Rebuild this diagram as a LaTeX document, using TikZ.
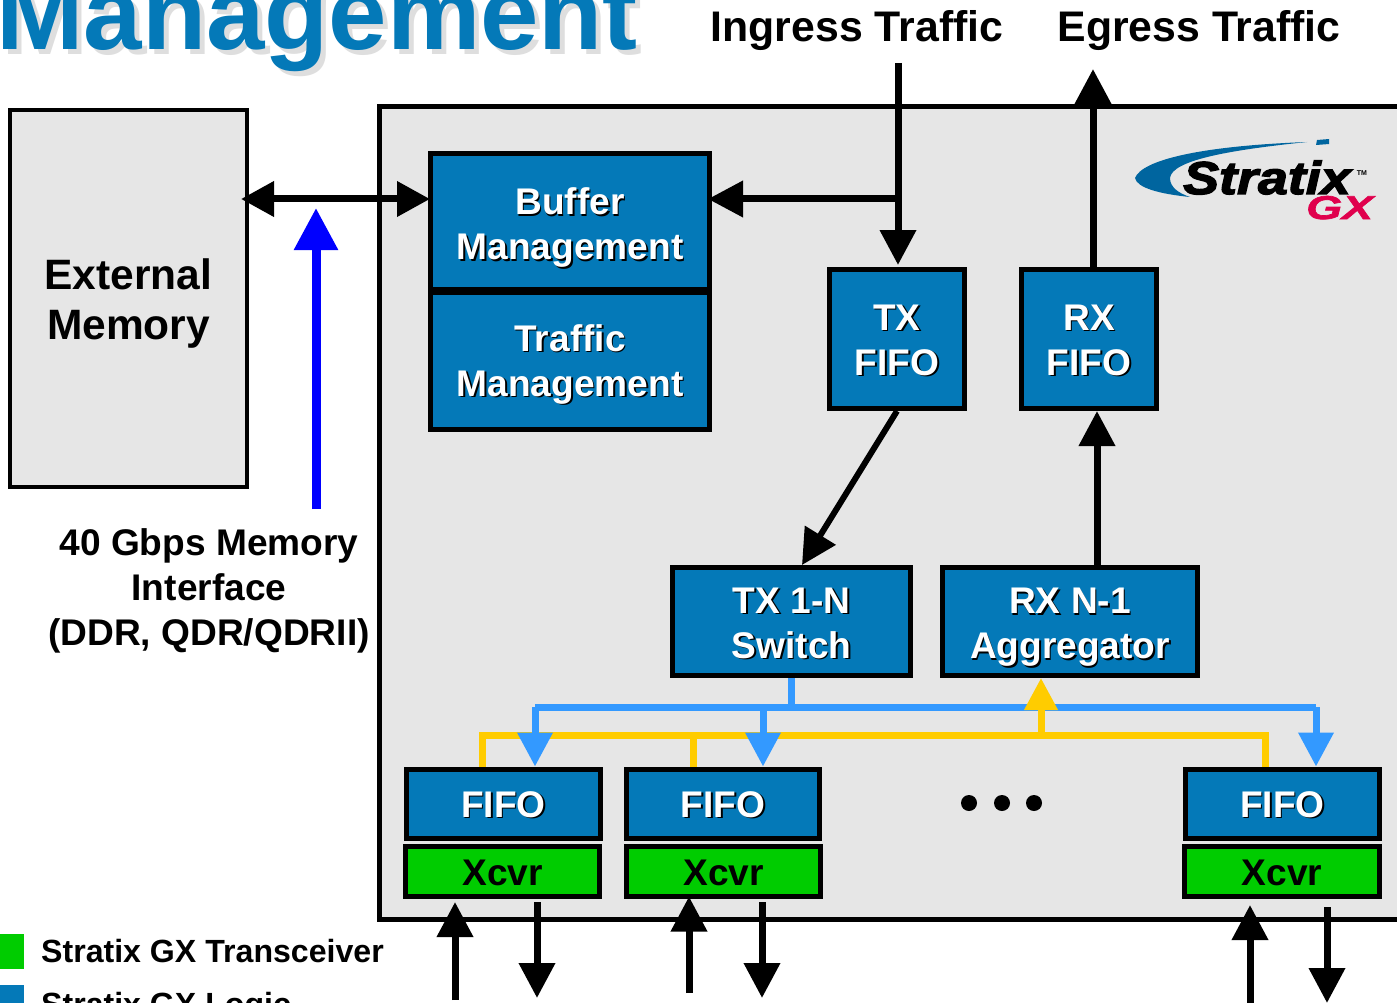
\documentclass[tikz,border=0pt]{standalone}
\usepackage{fontspec}
\setmainfont{Liberation Sans}
\newfontfamily\logofont[UprightFont=* Bold Italic,FakeBold=3,FakeStretch=1.17]{Liberation Sans}
\newfontfamily\gxfont[UprightFont=* Bold Italic,FakeBold=2,FakeStretch=1.4]{Liberation Sans}
\usetikzlibrary{arrows.meta}
\definecolor{logicblue}{HTML}{0479B8}
\definecolor{panelgray}{HTML}{E6E6E6}
\definecolor{xcvrgreen}{HTML}{00CC00}
\definecolor{splitblue}{HTML}{3399FF}
\definecolor{mergeyellow}{HTML}{FFCC00}
\definecolor{swooshblue}{HTML}{00659F}
\definecolor{gxred}{HTML}{E0004D}
\newcommand{\shadowed}[1]{\makebox[0pt][l]{\hspace{1.6pt}\raisebox{-1.6pt}{\textcolor{black}{#1}}}\textcolor{white}{#1}}
\newcommand{\titletext}[1]{\makebox[0pt][l]{\hspace{5pt}\raisebox{-5pt}{\textcolor{black!13}{#1}}}\textcolor{logicblue}{#1}}
\newcommand{\toppad}[1]{\rule{0pt}{#1pt}}
\tikzset{
  block/.style = {draw, line width=5pt, fill=logicblue, inner sep=0pt, align=center,
    font=\bfseries\fontsize{37.1}{45}\selectfont},
  xcvrbox/.style = {block, fill=xcvrgreen},
  label/.style = {align=center, inner sep=0pt, font=\bfseries\fontsize{37.1}{45}\selectfont},
  biglabel/.style = {align=center, inner sep=0pt, font=\bfseries\fontsize{42.8}{50}\selectfont},
  legend/.style = {anchor=base west, inner sep=0pt, font=\bfseries\fontsize{32.1}{38}\selectfont},
  bus/.style = {line width=7pt, -{Triangle[length=35pt,width=35pt]}},
  split/.style = {line width=7pt, draw=splitblue, -{Triangle[length=34pt,width=34pt]}},
  merge/.style = {line width=7pt, draw=mergeyellow},
  dot/.style = {circle, fill=black, inner sep=0pt, minimum size=16pt}
}
\begin{document}
\begin{tikzpicture}[x=1pt,y=-1pt]
  \clip (0,0) rectangle (1397,1003);
  \fill[white] (0,0) rectangle (1397,1003);

  % title
  \node[anchor=base west, inner sep=0pt, font=\bfseries\fontsize{105}{110}\selectfont] (title) at (-4,50) {\titletext{Management}};
  \node[biglabel] (ingress) at (857,31) {Ingress Traffic};
  \node[biglabel] (egress) at (1199,31) {Egress Traffic};

  % panel and memory
  \node[draw, line width=5pt, fill=panelgray, inner sep=0pt, minimum width=1104pt, minimum height=812pt] (panel) at (931,513) {};
  \node[draw, line width=4pt, fill=panelgray, biglabel, font=\bfseries\fontsize{42.5}{50}\selectfont, minimum width=237pt, minimum height=377pt] (memory) at (128.5,298.5) {\toppad{41}External\\Memory};

  % logo
  \fill[swooshblue] (1135,178) .. controls (1142,160) and (1200,146) .. (1307,142)
    .. controls (1230,150) and (1172,160) .. (1170,178)
    .. controls (1170,187) and (1178,193) .. (1190,197)
    .. controls (1160,194) and (1137,188) .. (1135,178) -- cycle;
  \fill[swooshblue] (1317,140) -- (1329,139) -- (1329,144) -- (1316,145) -- cycle;
  \node[inner sep=0pt, anchor=base west, font=\logofont\fontsize{46}{50}\selectfont] (stratix) at (1183,194) {Stratix};
  \node[inner sep=0pt, font=\bfseries\fontsize{7}{8}\selectfont] (tm) at (1362,173) {TM};
  \node[inner sep=0pt, anchor=base west, text=gxred, font=\gxfont\fontsize{33}{35}\selectfont] (gx) at (1306,219) {GX};

  % blocks
  \node[block, minimum width=279pt, minimum height=136pt] (buffer) at (570,221.5) {\toppad{41}\shadowed{Buffer}\\\shadowed{Management}};
  \node[block, minimum width=279pt, minimum height=137pt] (traffic) at (570,361) {\toppad{35}\shadowed{Traffic}\\\shadowed{Management}};
  \node[block, minimum width=135pt, minimum height=139pt] (txfifo) at (897,339) {\toppad{29}\shadowed{TX}\\\shadowed{FIFO}};
  \node[block, minimum width=135pt, minimum height=139pt] (rxfifo) at (1089,339) {\toppad{29}\shadowed{RX}\\\shadowed{FIFO}};
  \node[block, minimum width=238pt, minimum height=108pt] (switch) at (791.5,621.5) {\toppad{30}\shadowed{TX 1-N}\\\shadowed{Switch}};
  \node[block, minimum width=255pt, minimum height=108pt] (aggregator) at (1070,621.5) {\toppad{39}\shadowed{RX N-1}\\\shadowed{Aggregator}};

  \node[block, minimum width=194pt, minimum height=69pt] (fifoa) at (503.5,803.5) {\toppad{29}\shadowed{FIFO}};
  \node[block, minimum width=193pt, minimum height=69pt] (fifob) at (723,803.5) {\toppad{29}\shadowed{FIFO}};
  \node[block, minimum width=194pt, minimum height=69pt] (fifoc) at (1282.5,803.5) {\toppad{29}\shadowed{FIFO}};
  \node[xcvrbox, minimum width=194pt, minimum height=50pt] (xcvra) at (502.5,871) {\toppad{30}Xcvr};
  \node[xcvrbox, minimum width=194pt, minimum height=50pt] (xcvrb) at (723.5,871) {\toppad{30}Xcvr};
  \node[xcvrbox, minimum width=195pt, minimum height=50pt] (xcvrc) at (1282,871) {\toppad{30}Xcvr};

  \node[dot] (dota) at (969,803) {};
  \node[dot] (dotb) at (1002,803) {};
  \node[dot] (dotc) at (1034,803) {};

  % free ends
  \coordinate (branch) at (898,199);
  \coordinate (ingressend) at (898,63);
  \coordinate (egressend) at (1093,69);
  \coordinate (memoryend) at (316,509);
  \coordinate (memorytip) at (316,208);
  \coordinate (splitjoin) at (791,707);
  \coordinate (splitleft) at (535,707);
  \coordinate (splitmid) at (763,707);
  \coordinate (splitright) at (1316,707);
  \coordinate (mergejoin) at (1041,735);
  \coordinate (mergeleft) at (482,735);
  \coordinate (mergemid) at (693,735);
  \coordinate (mergeright) at (1265,735);

  % connectors
  \draw[bus, {Triangle[length=33pt,width=34pt]}-{Triangle[length=33pt,width=34pt]}] ([xshift=-8pt]memory.east |- branch) -- ([xshift=2pt]buffer.west |- branch);
  \draw[bus] (branch) -- ([xshift=-4pt]buffer.east |- branch);
  \draw[bus] (ingressend) -- ([yshift=2pt]txfifo.north -| ingressend);
  \draw[bus] (rxfifo.north -| egressend) -- (egressend);
  \draw[bus, line width=6pt] (txfifo.south) -- (switch.north -| 802,0);
  \draw[bus] (aggregator.north -| 1097,0) -- (rxfifo.south -| 1097,0);
  \draw[line width=9pt, draw=blue, -{Triangle[length=42pt,width=42pt]}] (memoryend) -- (memorytip);

  % fan out and fan in
  \draw[line width=7pt, draw=splitblue] (switch.south) -- (switch.south |- splitjoin);
  \draw[merge] (fifoa.north -| mergeleft) -- (mergeleft) -- (mergeright) -- (fifoc.north -| mergeright);
  \draw[merge] (mergemid) -- (fifob.north -| mergemid);
  \draw[line width=7pt, draw=splitblue] (splitleft) -- (splitright);
  \draw[merge, -{Triangle[length=32pt,width=32pt]}] (mergejoin) -- (aggregator.south -| mergejoin);
  \draw[split] (splitleft) -- (fifoa.north -| splitleft);
  \draw[split] (splitmid) -- (fifob.north -| splitmid);
  \draw[split] (splitright) -- (fifoc.north -| splitright);

  % transceiver links
  \coordinate (linkaout) at (455,1000);
  \coordinate (linkain) at (537,902);
  \coordinate (linkbout) at (689,993);
  \coordinate (linkbin) at (762,902);
  \coordinate (linkcout) at (1250,1003);
  \coordinate (linkcin) at (1327,907);
  \draw[bus] (linkaout) -- (455,902);
  \draw[bus] (linkain) -- (537,998);
  \draw[bus] (linkbout) -- ([yshift=2pt]xcvrb.south -| linkbout);
  \draw[bus] (linkbin) -- (762,998);
  \draw[bus] (linkcout) -- (1250,905);
  \draw[bus] (linkcin) -- (1327,1003);

  % labels
  \node[label] (interface) at (209,591) {40 Gbps Memory\\Interface\\(DDR, QDR/QDRII)};
  \fill[xcvrgreen] (0,934) rectangle (24,969);
  \fill[logicblue] (0,985) rectangle (24,1003);
  \node[legend] (legendxcvr) at (41,962) {Stratix GX Transceiver};
  \node[legend] (legendlogic) at (41,1015) {Stratix GX Logic};
\end{tikzpicture}
\end{document}
